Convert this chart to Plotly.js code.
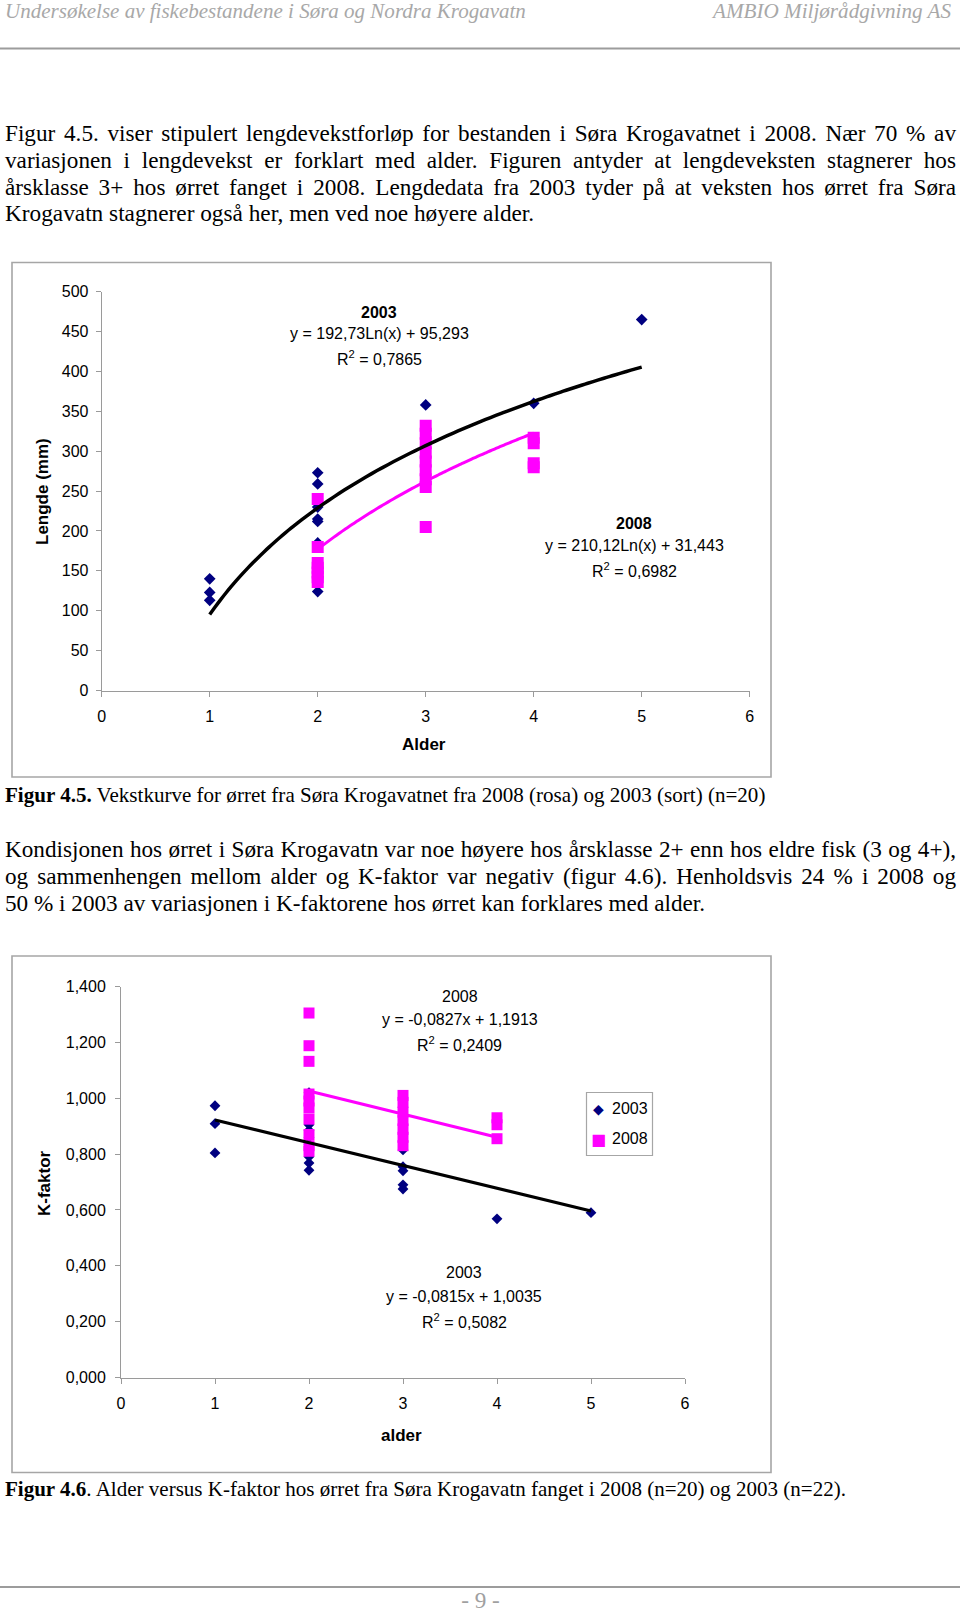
<!DOCTYPE html>
<html>
<head>
<meta charset="utf-8">
<script src="https://cdn.plot.ly/plotly-3.0.1.min.js"></script>
<style>
  html, body { margin: 0; padding: 0; background: #fff; }
  #page { position: relative; width: 960px; height: 1613px; overflow: hidden; }
  #plot { position: absolute; left: 0; top: 0; width: 960px; height: 1613px; }
  .t { position: absolute; white-space: nowrap; font-family: "Liberation Serif", "Times New Roman", serif;
       font-size: 23.2px; line-height: 1; color: #000; }
  .hd { font-style: italic; color: #a8a8a8; }
  .ft { color: #a0a0a0; }
</style>
</head>
<body>
<div id="page">
  <div id="plot"></div>
</div>
<script>
// ---------------- DATA ----------------
// Figur 4.5: Lengde (mm) vs alder
const lenAge2003 = [1, 1, 1, 2, 2, 2, 2, 2, 2, 2, 3, 3, 3, 4, 5];
const lenVal2003 = [140, 123, 113, 273, 259, 230, 215, 212, 185, 124, 358, 318, 312, 360, 465];
const lenAge2008 = [2, 2, 2, 2, 2, 2, 2, 3, 3, 3, 3, 3, 3, 3, 3, 3, 4, 4, 4, 4];
const lenVal2008 = [240, 180, 160, 154, 148, 142, 136, 332, 322, 310, 298, 287, 276, 265, 255, 205, 317, 310, 285, 280];
// logarithmic trend lines  y = a*ln(x) + b
const lenFitCoef2003 = [192.73, 95.293];
const lenFitRange2003 = [1, 5];
const lenFitCoef2008 = [210.12, 31.443];
const lenFitRange2008 = [2, 4];
const lenTickVals = [0, 50, 100, 150, 200, 250, 300, 350, 400, 450, 500];

// Figur 4.6: K-faktor vs alder
const kAge2003 = [1, 1, 1, 2, 2, 2, 2, 2, 2, 2, 2, 3, 3, 3, 3, 3, 3, 4, 5];
const kVal2003 = [0.973, 0.909, 0.804, 1.02, 0.905, 0.885, 0.86, 0.835, 0.79, 0.768, 0.742,
                  0.87, 0.815, 0.755, 0.74, 0.69, 0.675, 0.568, 0.59];
const kAge2008 = [2, 2, 2, 2, 2, 2, 2, 2, 2, 2, 3, 3, 3, 3, 3, 3, 3, 4, 4, 4];
const kVal2008 = [1.305, 1.188, 1.132, 1.015, 0.99, 0.965, 0.925, 0.87, 0.83, 0.81,
                  1.01, 0.985, 0.95, 0.92, 0.89, 0.86, 0.83, 0.93, 0.905, 0.855];
// linear trend lines  y = a*x + b
const kFitCoef2003 = [-0.0815, 1.0035];
const kFitRange2003 = [1, 5];
const kFitCoef2008 = [-0.0827, 1.1913];
const kFitRange2008 = [2, 4];
const kTickVals = [0, 0.2, 0.4, 0.6, 0.8, 1.0, 1.2, 1.4];
const kTickText = ['0,000', '0,200', '0,400', '0,600', '0,800', '1,000', '1,200', '1,400'];

const ageTickVals = [0, 1, 2, 3, 4, 5, 6];
const seriesNames = ['2003', '2008'];

// ---------------- helpers ----------------
const W = 960, H = 1613;
const fx = p => p / W;
const fy = p => 1 - p / H;

function logCurve(coef, range) {
  const xs = [], ys = [];
  const n = 80;
  for (let i = 0; i <= n; i++) {
    const x = range[0] + (range[1] - range[0]) * i / n;
    xs.push(x); ys.push(coef[0] * Math.log(x) + coef[1]);
  }
  return {x: xs, y: ys};
}
function linLine(coef, range) {
  return {x: range.slice(), y: range.map(x => coef[0] * x + coef[1])};
}

const NAVY = '#000080', PINK = '#FF00FF';
const c1 = logCurve(lenFitCoef2003, lenFitRange2003);
const c2 = logCurve(lenFitCoef2008, lenFitRange2008);
const l1 = linLine(kFitCoef2003, kFitRange2003);
const l2 = linLine(kFitCoef2008, kFitRange2008);

const traces = [
  {x: lenAge2003, y: lenVal2003, xaxis: 'x', yaxis: 'y', type: 'scatter', mode: 'markers', name: seriesNames[0],
   showlegend: false, marker: {symbol: 'diamond', size: 9, color: NAVY}},
  {x: lenAge2008, y: lenVal2008, xaxis: 'x', yaxis: 'y', type: 'scatter', mode: 'markers', name: seriesNames[1],
   showlegend: false, marker: {symbol: 'square', size: 12, color: PINK}},
  {x: c1.x, y: c1.y, xaxis: 'x', yaxis: 'y', type: 'scatter', mode: 'lines', showlegend: false,
   line: {color: '#000', width: 3.5, shape: 'spline'}},
  {x: c2.x, y: c2.y, xaxis: 'x', yaxis: 'y', type: 'scatter', mode: 'lines', showlegend: false,
   line: {color: PINK, width: 3, shape: 'spline'}},

  {x: kAge2003, y: kVal2003, xaxis: 'x2', yaxis: 'y2', type: 'scatter', mode: 'markers', name: seriesNames[0],
   showlegend: false, marker: {symbol: 'diamond', size: 8.3, color: NAVY}},
  {x: kAge2008, y: kVal2008, xaxis: 'x2', yaxis: 'y2', type: 'scatter', mode: 'markers', name: seriesNames[1],
   showlegend: false, marker: {symbol: 'square', size: 11, color: PINK}},
  {x: l1.x, y: l1.y, xaxis: 'x2', yaxis: 'y2', type: 'scatter', mode: 'lines', showlegend: false,
   line: {color: '#000', width: 3.2}},
  {x: l2.x, y: l2.y, xaxis: 'x2', yaxis: 'y2', type: 'scatter', mode: 'lines', showlegend: false,
   line: {color: PINK, width: 3}}
];

const AX_FONT = {family: 'Liberation Sans, Arial, sans-serif', size: 16, color: '#000'};
const axisBase = {
  showline: true, linecolor: '#9a9a9a', linewidth: 1, ticks: 'outside', ticklen: 5, tickwidth: 1,
  tickcolor: '#9a9a9a', showgrid: false, zeroline: false, tickfont: AX_FONT, fixedrange: true
};

function ann(text, x, y, opts) {
  return Object.assign({text: text, x: fx(x), y: fy(y), xref: 'paper', yref: 'paper', showarrow: false,
    xanchor: 'center', yanchor: 'middle', font: AX_FONT}, opts || {});
}
const BOLD17 = {family: 'Liberation Sans, Arial, sans-serif', size: 17, color: '#000'};

const annotations = [
  // Figur 4.5
  ann('<b>' + seriesNames[0] + '</b>', 379, 312.5),
  ann('y = 192,73Ln(x) + 95,293', 379, 334),
  ann('R<sup>2</sup> = 0,7865', 379, 358),
  ann('<b>' + seriesNames[1] + '</b>', 634, 524),
  ann('y = 210,12Ln(x) + 31,443', 634, 545.5),
  ann('R<sup>2</sup> = 0,6982', 634, 569.5),
  ann('<b>Lengde (mm)</b>', 43, 492, {textangle: -90, font: BOLD17}),
  ann('<b>Alder</b>', 424, 744, {font: BOLD17}),
  // Figur 4.6
  ann(seriesNames[1], 459.5, 996),
  ann('y = -0,0827x + 1,1913', 459.5, 1019.5),
  ann('R<sup>2</sup> = 0,2409', 459.5, 1043.5),
  ann(seriesNames[0], 464, 1272.5),
  ann('y = -0,0815x + 1,0035', 464, 1296),
  ann('R<sup>2</sup> = 0,5082', 464, 1320.5),
  ann('<b>K-faktor</b>', 44, 1183, {textangle: -90, font: BOLD17}),
  ann('<b>alder</b>', 401, 1435.5, {font: BOLD17}),
  // legend
  ann('◆', 598, 1109, {font: {family: 'DejaVu Sans', size: 14, color: NAVY}}),
  ann(seriesNames[0], 609.5, 1108.5, {xanchor: 'left'}),
  ann('■', 598, 1139, {font: {family: 'DejaVu Sans', size: 16, color: PINK}}),
  ann(seriesNames[1], 609.5, 1138.5, {xanchor: 'left'})
];

function rect(x0, y0, x1, y1, color, w) {
  return {type: 'rect', xref: 'paper', yref: 'paper', x0: fx(x0), x1: fx(x1), y0: fy(y0), y1: fy(y1),
    line: {color: color, width: w}, fillcolor: 'rgba(0,0,0,0)'};
}
function hline(y, color, w) {
  return {type: 'line', xref: 'paper', yref: 'paper', x0: 0, x1: 1, y0: fy(y), y1: fy(y), line: {color: color, width: w}};
}
const shapes = [
  hline(48.5, '#9c9c9c', 2),
  hline(1587, '#9c9c9c', 2),
  rect(12, 262.5, 771, 777, '#a6a6a6', 1.6),
  rect(12, 956, 771, 1472.5, '#a6a6a6', 1.6),
  rect(586.5, 1092.5, 652.5, 1155.5, '#a6a6a6', 1.2)
];

const layout = {
  width: W, height: H, margin: {l: 0, r: 0, t: 0, b: 0},
  paper_bgcolor: '#ffffff', plot_bgcolor: 'rgba(0,0,0,0)', showlegend: false,
  xaxis: Object.assign({}, axisBase, {domain: [fx(101.7), fx(749.7)], range: [0, 6], tickvals: ageTickVals,
    anchor: 'y', ticklabelstandoff: 6}),
  yaxis: Object.assign({}, axisBase, {domain: [fy(690.5), fy(291.7)], range: [0, 500], tickvals: lenTickVals,
    anchor: 'x', ticklabelstandoff: 4}),
  xaxis2: Object.assign({}, axisBase, {domain: [fx(121), fx(685)], range: [0, 6], tickvals: ageTickVals,
    anchor: 'y2', ticklabelstandoff: 6}),
  yaxis2: Object.assign({}, axisBase, {domain: [fy(1377.5), fy(986.5)], range: [0, 1.4], tickvals: kTickVals,
    ticktext: kTickText, anchor: 'x2', ticklabelstandoff: 6}),
  annotations: annotations,
  shapes: shapes
};

Plotly.newPlot('plot', traces, layout, {staticPlot: true, displayModeBar: false});

// ---------------- document text ----------------
const textLines = [
  {h: 'Undersøkelse av fiskebestandene i Søra og Nordra Krogavatn', x: 5, base: 18.5, fit: 521, cls: 'hd'},
  {h: 'AMBIO Miljørådgivning AS', right: 951, base: 18.5, fit: 238, cls: 'hd'},
  {h: 'Figur 4.5. viser stipulert lengdevekstforløp for bestanden i Søra Krogavatnet i 2008. Nær 70 % av', x: 5, base: 141.7, just: 951},
  {h: 'variasjonen i lengdevekst er forklart med alder. Figuren antyder at lengdeveksten stagnerer hos', x: 5, base: 168.4, just: 951},
  {h: 'årsklasse 3+ hos ørret fanget i 2008. Lengdedata fra 2003 tyder på at veksten hos ørret fra Søra', x: 5, base: 195.1, just: 951},
  {h: 'Krogavatn stagnerer også her, men ved noe høyere alder.', x: 5, base: 221.8, fit: 529},
  {h: '<b>Figur 4.5.</b> Vekstkurve for ørret fra Søra Krogavatnet fra 2008 (rosa) og 2003 (sort) (n=20)', x: 5, base: 803, fit: 760},
  {h: 'Kondisjonen hos ørret i Søra Krogavatn var noe høyere hos årsklasse 2+ enn hos eldre fisk (3 og 4+),', x: 5, base: 857.5, just: 951},
  {h: 'og sammenhengen mellom alder og K-faktor var negativ (figur 4.6). Henholdsvis 24 % i 2008 og', x: 5, base: 884.2, just: 951},
  {h: '50 % i 2003 av variasjonen i K-faktorene hos ørret kan forklares med alder.', x: 5, base: 910.9, fit: 700},
  {h: '<b>Figur 4.6</b>. Alder versus K-faktor hos ørret fra Søra Krogavatn fanget i 2008 (n=20) og 2003 (n=22).', x: 5, base: 1497, fit: 841},
  {h: '- 9 -', cx: 480.5, base: 1608, cls: 'ft'}
];

const page = document.getElementById('page');
const els = textLines.map(d => {
  const el = document.createElement('div');
  el.className = 't' + (d.cls ? ' ' + d.cls : '');
  el.innerHTML = d.h;
  page.appendChild(el);
  return el;
});

function layoutText() {
  textLines.forEach((d, i) => {
    const el = els[i];
    el.style.fontSize = '23.2px';
    el.style.wordSpacing = '0px';
    if (d.fit) {
      const nat = el.getBoundingClientRect().width;
      el.style.fontSize = (23.2 * d.fit / nat).toFixed(2) + 'px';
    }
    if (d.just) {
      const nat = el.getBoundingClientRect().width;
      const n = (el.textContent.match(/ /g) || []).length;
      el.style.wordSpacing = ((d.just - nat) / n).toFixed(3) + 'px';
    }
    const fs = parseFloat(el.style.fontSize);
    el.style.top = Math.max(0, d.base - 0.8375 * fs).toFixed(1) + 'px';
    const w = el.getBoundingClientRect().width;
    let left = d.x;
    if (d.right !== undefined) left = d.right - w;
    if (d.cx !== undefined) left = d.cx - w / 2;
    el.style.left = left.toFixed(1) + 'px';
  });
}
layoutText();
if (document.fonts && document.fonts.ready) document.fonts.ready.then(layoutText);
</script>
</body>
</html>
